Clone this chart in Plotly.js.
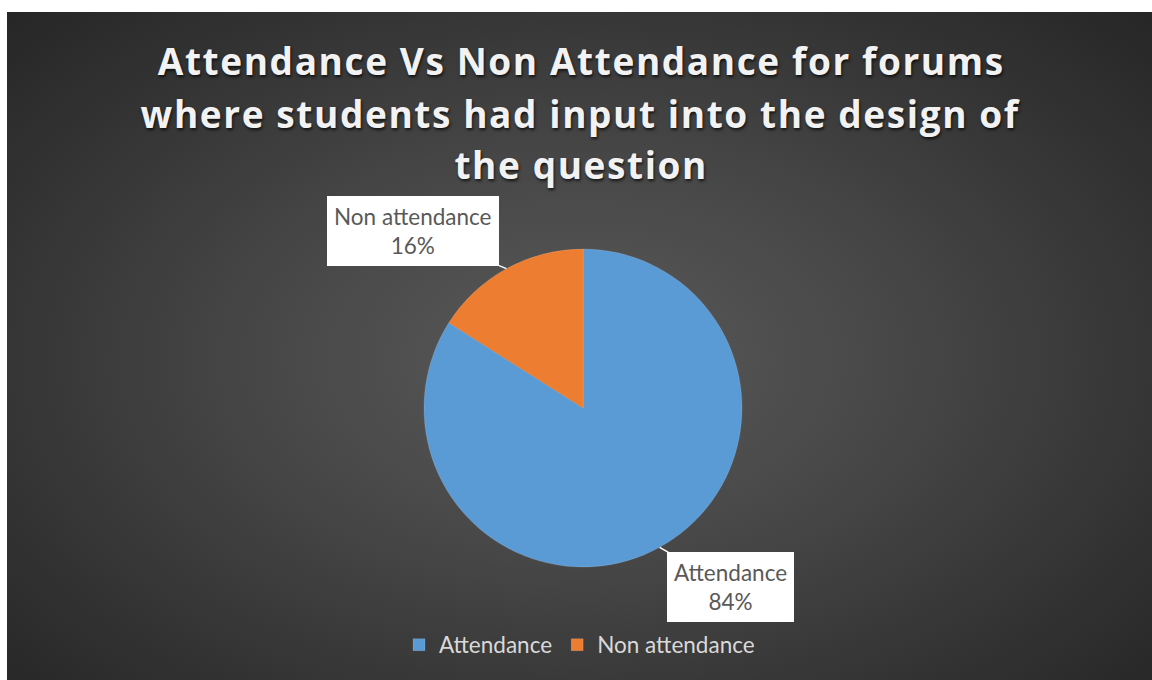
<!DOCTYPE html>
<html>
<head>
<meta charset="utf-8">
<script src="https://cdn.plot.ly/plotly-3.0.1.min.js"></script>
<style>
  html, body { margin: 0; padding: 0; background: #ffffff; width: 1152px; height: 680px; overflow: hidden; }
  #chart {
    position: absolute; left: 7px; top: 12px; width: 1145px; height: 668px;
    background: radial-gradient(ellipse 70% 75% at 50% 52%, #5a5a5a 0%, #474747 40%, #333333 75%, #262626 100%);
  }
  #chart .title-line { letter-spacing: 1.6px; }
</style>
</head>
<body>
<div id="chart"></div>
<script>
const categories = ["Attendance", "Non attendance"];
const values = [84, 16];
const colors = ["#5b9bd5", "#ed7d31"];
const titleLines = ["Attendance Vs Non Attendance for forums", "where students had input into the design of", "the question"];

const W = 1145, H = 668;
const margin = {l: 7, r: 0, t: 237, b: 113};
const plotW = W - margin.l - margin.r, plotH = H - margin.t - margin.b;
const radius = Math.min(plotW, plotH) / 2;

// label box offsets (pixels, from slice edge to box centre)
const labelOffsets = [[71, 40], [-93, -38]];

const total = values.reduce((a, b) => a + b, 0);
let cum = 0;
const annotations = [];
values.forEach((v, i) => {
  const mid = (cum + v / 2) / total;  // fraction clockwise from top
  cum += v;
  const th = mid * 2 * Math.PI;
  const tipX = 0.5 + radius * Math.sin(th) / plotW;
  const tipY = 0.5 + radius * Math.cos(th) / plotH;
  const pct = Math.round(v / total * 100);
  annotations.push({
    x: tipX, y: tipY, xref: "paper", yref: "paper",
    text: categories[i] + "<br>" + pct + "%",
    showarrow: true, arrowhead: 0, arrowwidth: 1.5, arrowcolor: "#ffffff",
    ax: labelOffsets[i][0], ay: labelOffsets[i][1],
    bgcolor: "#ffffff", borderpad: 7, borderwidth: 0,
    font: {family: "Lato, 'Open Sans', sans-serif", size: 22.5, color: "#595959"},
    align: "center"
  });
});

// title lines (pixel rows in the chart div, converted to paper coords)
const titleY = [49, 101, 152];
titleLines.forEach((line, i) => {
  annotations.push({
    x: (574 - margin.l) / plotW, xref: "paper", xanchor: "center",
    y: (H - margin.b - titleY[i]) / plotH, yref: "paper", yanchor: "middle",
    text: "<b>" + line + "</b>", showarrow: false,
    font: {family: "'Open Sans', sans-serif", size: 37, color: "#f2f2f2", shadow: "1px 2px 3px rgba(0,0,0,0.7)"}
  });
});

const data = [{
  type: "pie",
  labels: categories,
  values: values,
  marker: {colors: colors, line: {color: "rgba(255,255,255,0.25)", width: 0.5}},
  sort: false,
  direction: "clockwise",
  rotation: 0,
  textinfo: "none",
  hoverinfo: "label+percent",
  domain: {x: [0, 1], y: [0, 1]}
}];

const layout = {
  width: W, height: H,
  margin: margin,
  paper_bgcolor: "rgba(0,0,0,0)",
  plot_bgcolor: "rgba(0,0,0,0)",
  showlegend: true,
  legend: {
    orientation: "h", x: 0.5, xanchor: "center", xref: "container",
    y: 1 - 633 / H, yanchor: "middle", yref: "container",
    font: {family: "Lato, 'Open Sans', sans-serif", size: 22.5, color: "#d9d9d9"},
    itemwidth: 30, bgcolor: "rgba(0,0,0,0)", traceorder: "normal"
  },
  annotations: annotations
};

Plotly.newPlot("chart", data, layout, {displayModeBar: false, staticPlot: true}).then(() => {
  const anns = document.querySelectorAll("#chart .annotation");
  anns.forEach((a, idx) => { if (idx >= values.length) a.classList.add("title-line"); });
});
</script>
</body>
</html>
